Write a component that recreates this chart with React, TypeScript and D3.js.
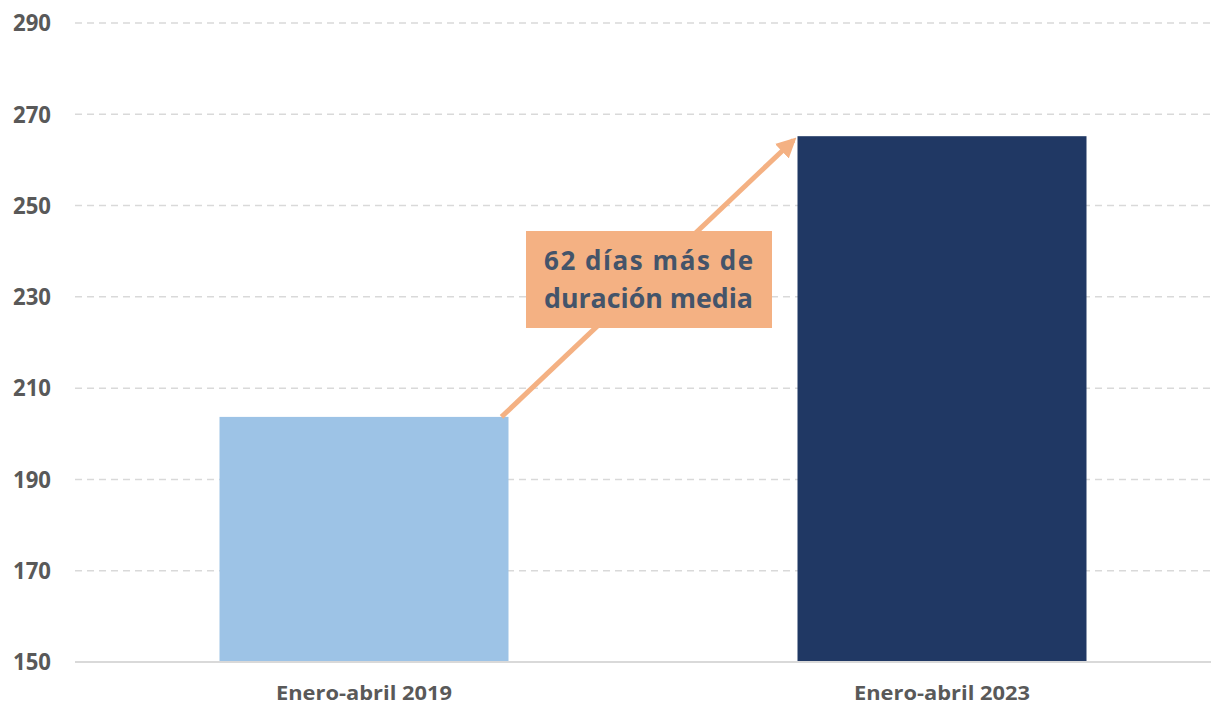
import React, { useEffect, useRef } from 'react'
import * as d3 from 'd3'

const categories = ['Enero-abril 2019', 'Enero-abril 2023']
const values = [203.7, 265.2]
const barColors = ['#9DC3E6', '#203864']
const yTicks = [150, 170, 190, 210, 230, 250, 270, 290]
const noteLines = ['62 días más de', 'duración media']

const W = 1211
const H = 707
const FONT = '"Open Sans", sans-serif'

export default function App() {
  const ref = useRef<SVGSVGElement>(null)

  useEffect(() => {
    const svg = d3.select(ref.current)
    svg.selectAll('*').remove()

    const x = d3.scaleBand<string>()
      .domain(categories)
      .range([75, 1231])
      .paddingInner(0.5)
      .paddingOuter(0.25)

    const y = d3.scaleLinear().domain([150, 290]).range([662, 23])

    // grid lines
    svg.append('g')
      .selectAll('line')
      .data(yTicks.filter(d => d !== 150))
      .join('line')
      .attr('x1', 75)
      .attr('x2', 1231)
      .attr('y1', d => y(d))
      .attr('y2', d => y(d))
      .attr('stroke', '#d9d9d9')
      .attr('stroke-width', 1.5)
      .attr('stroke-dasharray', '7,5')

    // tick labels
    svg.append('g')
      .selectAll('text')
      .data(yTicks)
      .join('text')
      .attr('x', 51)
      .attr('y', d => y(d))
      .attr('dy', '0.36em')
      .attr('text-anchor', 'end')
      .attr('font-family', FONT)
      .attr('font-weight', 'bold')
      .attr('font-size', 23)
      .attr('textLength', 38)
      .attr('lengthAdjust', 'spacingAndGlyphs')
      .attr('fill', '#595959')
      .text(d => d)

    // bars
    svg.append('g')
      .selectAll('rect')
      .data(values)
      .join('rect')
      .attr('x', (d, i) => x(categories[i])!)
      .attr('width', x.bandwidth())
      .attr('y', d => y(d))
      .attr('height', d => y(150) - y(d))
      .attr('fill', (d, i) => barColors[i])

    // baseline
    svg.append('line')
      .attr('x1', 75)
      .attr('x2', 1231)
      .attr('y1', y(150))
      .attr('y2', y(150))
      .attr('stroke', '#d9d9d9')
      .attr('stroke-width', 2)

    // category labels
    svg.append('g')
      .selectAll('text')
      .data(categories)
      .join('text')
      .attr('x', d => x(d)! + x.bandwidth() / 2)
      .attr('y', 700)
      .attr('text-anchor', 'middle')
      .attr('font-family', FONT)
      .attr('font-weight', 'bold')
      .attr('font-size', 20)
      .attr('textLength', 176)
      .attr('lengthAdjust', 'spacingAndGlyphs')
      .attr('fill', '#595959')
      .text(d => d)

    // arrow from bar 1 to bar 2
    const orange = '#F4B183'
    svg.append('defs')
      .append('marker')
      .attr('id', 'arrowhead')
      .attr('viewBox', '0 0 10 10')
      .attr('refX', 8)
      .attr('refY', 5)
      .attr('markerWidth', 4)
      .attr('markerHeight', 4)
      .attr('orient', 'auto')
      .append('path')
      .attr('d', 'M0,0 L10,5 L0,10 Z')
      .attr('fill', orange)

    const x0 = x(categories[0])! + x.bandwidth() - 7
    const x1 = x(categories[1])! - 4
    svg.append('line')
      .attr('x1', x0)
      .attr('y1', y(values[0]))
      .attr('x2', x1)
      .attr('y2', y(values[1]) + 4)
      .attr('stroke', orange)
      .attr('stroke-width', 5)
      .attr('marker-end', 'url(#arrowhead)')

    // note box
    svg.append('rect')
      .attr('x', 526)
      .attr('y', 231)
      .attr('width', 246)
      .attr('height', 97)
      .attr('fill', orange)

    svg.append('g')
      .selectAll('text')
      .data(noteLines)
      .join('text')
      .attr('x', 544)
      .attr('y', (d, i) => 270 + i * 38)
      .attr('textLength', 209)
      .attr('lengthAdjust', (d, i) => (i === 0 ? 'spacing' : 'spacingAndGlyphs'))
      .attr('font-family', FONT)
      .attr('font-weight', 'bold')
      .attr('font-size', 26)
      .attr('fill', '#44546A')
      .text(d => d)
  }, [])

  return (
    <svg ref={ref} width={W} height={H} style={{ position: 'absolute', left: 0, top: 0, background: '#fff' }} />
  )
}
